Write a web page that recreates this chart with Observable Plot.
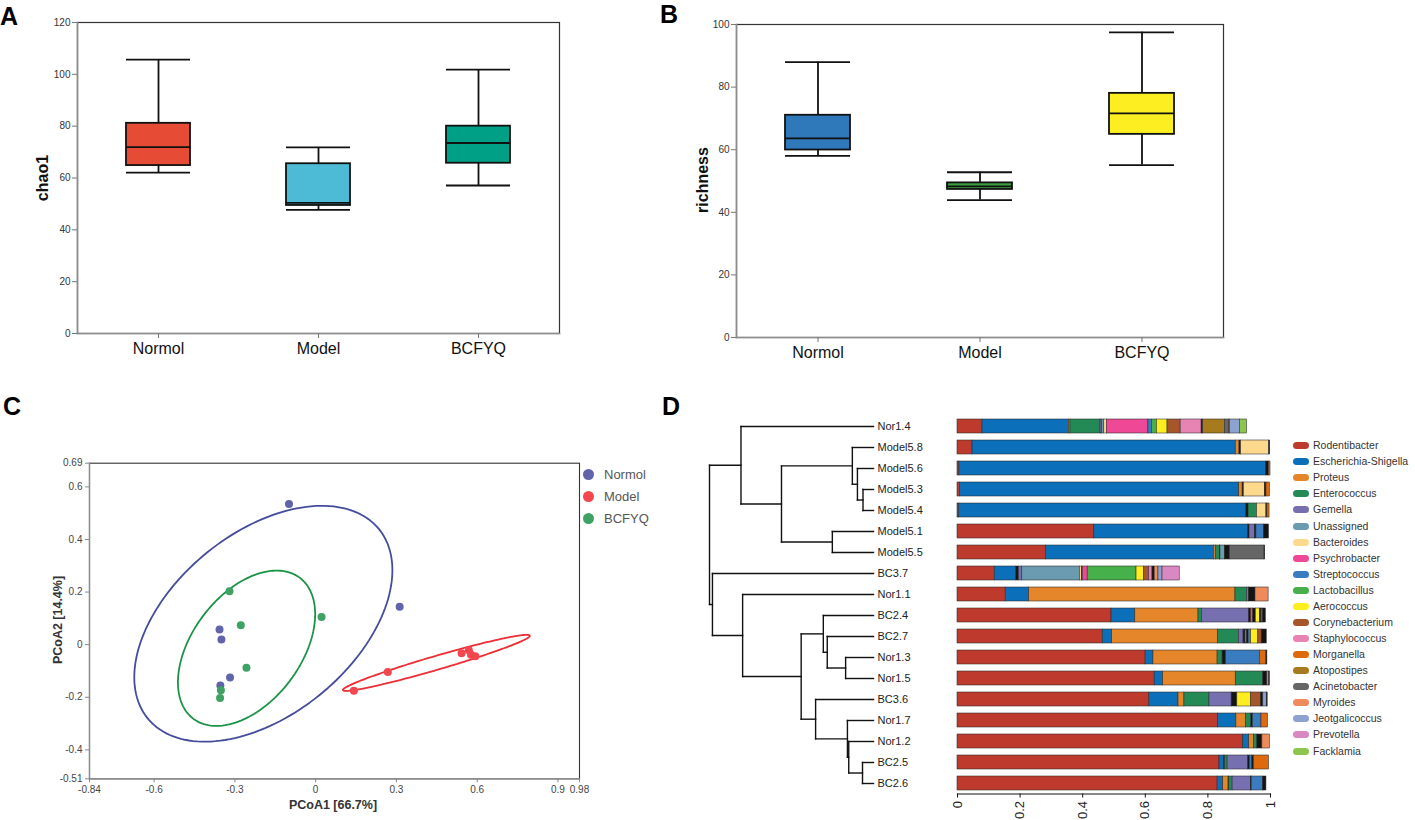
<!DOCTYPE html>
<html><head><meta charset="utf-8">
<script src="https://cdn.jsdelivr.net/npm/d3@7"></script>
<script src="https://cdn.jsdelivr.net/npm/@observablehq/plot@0.6"></script>
<style>
body{margin:0;background:#fff;}
#root{position:relative;width:1415px;height:820px;font-family:"Liberation Sans",Arial,sans-serif;overflow:hidden;background:#fff;}
.letter{position:absolute;font-weight:bold;font-size:25px;line-height:1;color:#000;}
.ctr{position:absolute;transform:translate(-50%,-50%);white-space:nowrap;}
.rot{position:absolute;transform:translate(-50%,-50%) rotate(-90deg);white-space:nowrap;}
</style></head><body><div id="root"></div>
<script>
// ---------------- DATA ----------------
const groups = ["Normol", "Model", "BCFYQ"];
// Panel A: chao1 box summaries
const chao1Min = [62.1, 47.7, 57.1];
const chao1Q1 = [64.8, 49.4, 65.7];
const chao1Median = [71.9, 50.4, 73.5];
const chao1Q3 = [81.1, 65.5, 80.0];
const chao1Max = [105.7, 71.8, 101.8];
const chao1Ticks = [0, 20, 40, 60, 80, 100, 120];
const chao1Colors = ["#E64B35", "#4DBBD5", "#00A087"];
// Panel B: richness box summaries
const richMin = [58.0, 43.9, 55.1];
const richQ1 = [59.9, 47.3, 64.9];
const richMedian = [63.6, 48.3, 71.6];
const richQ3 = [71.0, 49.4, 78.0];
const richMax = [88.0, 52.8, 97.5];
const richTicks = [0, 20, 40, 60, 80, 100];
const richColors = ["#2F79BA", "#3A9F3F", "#FDEE21"];
// Panel C: PCoA
const pcoaNormolX = [-0.099, 0.312, -0.357, -0.350, -0.318, -0.354];
const pcoaNormolY = [0.535, 0.144, 0.058, 0.020, -0.125, -0.155];
const pcoaModelX = [0.142, 0.268, 0.542, 0.569, 0.577, 0.593];
const pcoaModelY = [-0.175, -0.104, -0.033, -0.021, -0.038, -0.044];
const pcoaBcfyqX = [-0.320, 0.022, -0.278, -0.257, -0.352, -0.355];
const pcoaBcfyqY = [0.203, 0.105, 0.074, -0.088, -0.173, -0.203];
const pcoaPointColors = ["#6065AA", "#F2474F", "#3FA164"];
const pcoaEllipseColors = ["#454C9C", "#EF2D35", "#1E9348"];
const pcoaXTicks = [-0.84, -0.6, -0.3, 0, 0.3, 0.6, 0.9, 0.98];
const pcoaYTicks = [-0.51, -0.4, -0.2, 0, 0.2, 0.4, 0.6, 0.69];
const ellipseLevel = 0.8;
// Panel D: samples, tree, composition
const samples = ["Nor1.4","Model5.8","Model5.6","Model5.3","Model5.4","Model5.1","Model5.5","BC3.7","Nor1.1","BC2.4","BC2.7","Nor1.3","Nor1.5","BC3.6","Nor1.7","Nor1.2","BC2.5","BC2.6"];
// merges: [node id, child a, child b, height]
const merges = [
  ["F","Model5.3","Model5.4",0.064],
  ["E","Model5.6","F",0.098],
  ["C","Model5.8","E",0.129],
  ["D","Model5.1","Model5.5",0.251],
  ["B","C","D",0.561],
  ["A","Nor1.4","B",0.808],
  ["M","Nor1.3","Nor1.5",0.170],
  ["L","BC2.7","M",0.282],
  ["J","BC2.4","L",0.306],
  ["Q","BC2.5","BC2.6",0.067],
  ["P","Nor1.2","Q",0.151],
  ["N","Nor1.7","P",0.159],
  ["K","BC3.6","N",0.353],
  ["I","J","K",0.441],
  ["H","Nor1.1","I",0.798],
  ["G","BC3.7","H",0.982],
  ["root","A","G",1.0]
];
const genera = ["Rodentibacter","Escherichia-Shigella","Proteus","Enterococcus","Gemella","Unassigned","Bacteroides","Psychrobacter","Streptococcus","Lactobacillus","Aerococcus","Corynebacterium","Staphylococcus","Morganella","Atopostipes","Acinetobacter","Myroides","Jeotgalicoccus","Prevotella","Facklamia"];
const generaColors = ["#BE3A2C","#0B6FBA","#E5862A","#238A55","#7670B1","#6B9BB0","#FDD98E","#EE4896","#3A7CC0","#46B04A","#FFEE1F","#A6562A","#E884B4","#DD6A0C","#A77B1D","#666666","#EF8A5B","#8DA2D1","#DA88C2","#8CC64D"];
const otherName = "Other"; // index 20 (dark minor taxa)
const otherColor = "#141414";
// segments per sample: [genus index, relative abundance], in drawing order
const segNor14 = [[0,.080],[1,.276],[2,.005],[3,.096],[4,.005],[5,.007],[6,.008],[7,.133],[8,.011],[9,.016],[10,.034],[11,.042],[12,.067],[20,.005],[14,.069],[15,.014],[16,.002],[17,.032],[19,.023]];
const segModel58 = [[0,.048],[1,.841],[2,.012],[20,.005],[6,.090],[20,.003]];
const segModel56 = [[0,.006],[1,.980],[20,.009],[13,.005]];
const segModel53 = [[0,.008],[1,.892],[2,.011],[20,.004],[6,.067],[20,.005],[13,.011]];
const segModel54 = [[0,.005],[1,.918],[20,.007],[3,.027],[6,.030],[20,.003],[13,.007]];
const segModel51 = [[0,.437],[1,.492],[20,.004],[4,.017],[20,.005],[8,.024],[20,.016]];
const segModel55 = [[0,.283],[1,.536],[2,.006],[3,.013],[20,.002],[5,.014],[20,.016],[15,.111],[20,.002]];
const segBC37 = [[0,.119],[1,.069],[20,.008],[4,.011],[5,.184],[6,.007],[20,.002],[7,.016],[9,.156],[10,.024],[11,.016],[12,.011],[20,.007],[16,.012],[17,.013],[18,.055]];
const segNor11 = [[0,.154],[1,.075],[2,.659],[3,.037],[4,.006],[20,.021],[16,.042]];
const segBC24 = [[0,.492],[1,.076],[2,.202],[3,.011],[4,.151],[20,.006],[7,.007],[20,.008],[10,.013],[20,.005],[11,.005],[20,.009]];
const segBC27 = [[0,.464],[1,.030],[2,.338],[3,.067],[4,.015],[20,.006],[5,.005],[20,.005],[8,.008],[10,.023],[11,.011],[20,.016]];
const segNor13 = [[0,.601],[1,.025],[2,.205],[3,.016],[20,.011],[8,.108],[13,.021],[20,.003]];
const segNor15 = [[0,.630],[1,.027],[2,.232],[3,.088],[20,.013],[18,.006],[20,.002]];
const segBC36 = [[0,.613],[1,.093],[2,.019],[3,.080],[4,.071],[20,.018],[10,.044],[11,.032],[20,.007],[17,.011],[20,.003]];
const segNor17 = [[0,.833],[1,.058],[2,.030],[3,.018],[20,.005],[8,.027],[13,.021]];
const segNor12 = [[0,.913],[1,.019],[2,.016],[3,.010],[20,.016],[16,.024]];
const segBC25 = [[0,.837],[1,.015],[20,.003],[3,.008],[4,.066],[20,.005],[8,.008],[20,.005],[13,.048]];
const segBC26 = [[0,.831],[1,.018],[2,.017],[20,.002],[3,.011],[4,.058],[20,.003],[8,.036],[20,.011]];
const sampleSegments = [segNor14,segModel58,segModel56,segModel53,segModel54,segModel51,segModel55,segBC37,segNor11,segBC24,segBC27,segNor13,segNor15,segBC36,segNor17,segNor12,segBC25,segBC26];
const compTicks = [0, 0.2, 0.4, 0.6, 0.8, 1];

// ---------------- HELPERS ----------------
const root = document.getElementById("root");
const FONT = '"Liberation Sans", Arial, sans-serif';
function place(el, left, top) {
  el.style.position = "absolute"; el.style.left = left + "px"; el.style.top = top + "px";
  root.appendChild(el); return el;
}
function addDiv(txt, cls, left, top, css) {
  const d = document.createElement("div");
  d.className = cls; d.textContent = txt;
  d.style.left = left + "px"; d.style.top = top + "px";
  d.style.cssText += css || "";
  root.appendChild(d); return d;
}
const baseStyle = {fontFamily: FONT, fontSize: "10px", color: "#222", background: "transparent", overflow: "visible"};

function boxPlot(mins, q1s, meds, q3s, maxs, colors, yMax, yTicks, dims) {
  const data = groups.map((g, i) => ({group: g, min: mins[i], q1: q1s[i], median: meds[i], q3: q3s[i], max: maxs[i]}));
  const lw = 1.8;
  return Plot.plot({
    width: dims.width, height: dims.height,
    marginLeft: dims.ml, marginRight: dims.mr, marginTop: dims.mt, marginBottom: dims.mb,
    style: baseStyle,
    x: {domain: groups, paddingInner: 0.6, paddingOuter: 0.3, label: null},
    y: {domain: [0, yMax], label: null},
    color: {domain: groups, range: colors},
    marks: [
      Plot.ruleX(data, {x: "group", y1: "min", y2: "max", stroke: "#111", strokeWidth: lw}),
      Plot.barY(data, {x: "group", y1: "q1", y2: "q3", fill: "group", stroke: "#111", strokeWidth: lw}),
      Plot.tickY(data, {x: "group", y: "median", stroke: "#111", strokeWidth: lw}),
      Plot.tickY(data, {x: "group", y: "min", stroke: "#111", strokeWidth: lw}),
      Plot.tickY(data, {x: "group", y: "max", stroke: "#111", strokeWidth: lw}),
      Plot.frame({stroke: "#333", strokeWidth: 1.2}),
      Plot.frame({anchor: "left", stroke: "#8c8c8c", strokeWidth: 1.6}),
      Plot.frame({anchor: "bottom", stroke: "#8c8c8c", strokeWidth: 1.6}),
      Plot.axisY({ticks: yTicks, tickSize: 5, tickPadding: 2, stroke: "#777", fill: "#333", fontSize: 10, label: null}),
      Plot.axisX({tickSize: 5, tickPadding: 4, stroke: "#777", fill: "#111", fontSize: 16, label: null})
    ]
  });
}

function ellipsePoints(xs, ys, level) {
  const n = xs.length, mx = d3.mean(xs), my = d3.mean(ys);
  let sxx = 0, syy = 0, sxy = 0;
  for (let i = 0; i < n; i++) { const dx = xs[i] - mx, dy = ys[i] - my; sxx += dx*dx; syy += dy*dy; sxy += dx*dy; }
  sxx /= (n - 1); syy /= (n - 1); sxy /= (n - 1);
  const tr = sxx + syy, det = sxx*syy - sxy*sxy;
  const disc = Math.sqrt(Math.max(0, tr*tr/4 - det));
  const l1 = tr/2 + disc, l2 = Math.max(0, tr/2 - disc);
  const theta = Math.abs(sxy) > 1e-12 ? Math.atan2(l1 - sxx, sxy) : (sxx >= syy ? 0 : Math.PI/2);
  const r = Math.sqrt(-2 * Math.log(1 - level));
  const a = r*Math.sqrt(l1), b = r*Math.sqrt(l2);
  const pts = [];
  const N = 160;
  for (let k = 0; k <= N; k++) {
    const t = 2*Math.PI*k/N;
    const u = a*Math.cos(t), v = b*Math.sin(t);
    pts.push({x: mx + u*Math.cos(theta) - v*Math.sin(theta), y: my + u*Math.sin(theta) + v*Math.cos(theta)});
  }
  return pts;
}

// ---------------- PANEL LETTERS ----------------
addDiv("A", "letter", 0, 4);
addDiv("B", "letter", 660, 2);
addDiv("C", "letter", 3, 394);
addDiv("D", "letter", 662, 394);

// ---------------- PANEL A ----------------
place(boxPlot(chao1Min, chao1Q1, chao1Median, chao1Q3, chao1Max, chao1Colors, 120, chao1Ticks,
  {width: 570, height: 365, ml: 77, mr: 11, mt: 22, mb: 32}), 0, 0);
addDiv("chao1", "rot", 43, 178, "font-weight:bold;font-size:16px;color:#111;");

// ---------------- PANEL B ----------------
place(boxPlot(richMin, richQ1, richMedian, richQ3, richMax, richColors, 100, richTicks,
  {width: 575, height: 365, ml: 76, mr: 12, mt: 24, mb: 28}), 660, 0);
addDiv("richness", "rot", 703, 180, "font-weight:bold;font-size:16px;color:#111;");

// ---------------- PANEL C ----------------
{
  const setsX = [pcoaNormolX, pcoaModelX, pcoaBcfyqX];
  const setsY = [pcoaNormolY, pcoaModelY, pcoaBcfyqY];
  const marks = [
    Plot.frame({stroke: "#333", strokeWidth: 1.1}),
    Plot.frame({anchor: "left", stroke: "#8c8c8c", strokeWidth: 1.4}),
    Plot.frame({anchor: "bottom", stroke: "#8c8c8c", strokeWidth: 1.4})
  ];
  groups.forEach((g, gi) => {
    marks.push(Plot.line(ellipsePoints(setsX[gi], setsY[gi], ellipseLevel), {x: "x", y: "y", stroke: pcoaEllipseColors[gi], strokeWidth: 1.8}));
  });
  groups.forEach((g, gi) => {
    const pts = setsX[gi].map((x, i) => ({x, y: setsY[gi][i]}));
    marks.push(Plot.dot(pts, {x: "x", y: "y", r: 4, fill: pcoaPointColors[gi], stroke: "none"}));
  });
  marks.push(Plot.axisX({ticks: pcoaXTicks, tickFormat: d => String(d), tickSize: 4, tickPadding: 3, stroke: "#888", fill: "#444", fontSize: 10, label: null}));
  marks.push(Plot.axisY({ticks: pcoaYTicks, tickFormat: d => String(d), tickSize: 4, tickPadding: 3, stroke: "#888", fill: "#444", fontSize: 10, label: null}));
  const svgC = Plot.plot({
    width: 680, height: 400, marginLeft: 89, marginRight: 101, marginTop: 52.7, marginBottom: 31.7,
    style: baseStyle,
    x: {domain: [-0.84, 0.98], label: null},
    y: {domain: [-0.51, 0.69], label: null},
    marks
  });
  place(svgC, 0, 410);
  addDiv("PCoA1 [66.7%]", "ctr", 333, 805, "font-weight:bold;font-size:12.5px;color:#333;");
  addDiv("PCoA2 [14.4%]", "rot", 58, 620, "font-weight:bold;font-size:12.5px;color:#333;");
  // legend
  groups.forEach((g, gi) => {
    const item = document.createElement("div");
    item.style.cssText = `position:absolute;left:583px;top:${467.8 + gi*22.2}px;height:13px;display:flex;align-items:center;`;
    const sw = document.createElement("span");
    sw.style.cssText = `display:inline-block;width:11px;height:11px;border-radius:50%;background:${pcoaPointColors[gi]};`;
    const tx = document.createElement("span");
    tx.textContent = g;
    tx.style.cssText = "margin-left:10px;font-size:13px;color:#555;line-height:13px;";
    item.appendChild(sw); item.appendChild(tx);
    root.appendChild(item);
  });
}

// ---------------- PANEL D: dendrogram ----------------
{
  const pos = new Map(samples.map((s, i) => [s, {y: i, h: 0}]));
  const segs = [];
  for (const [id, a, b, h] of merges) {
    const pa = pos.get(a), pb = pos.get(b);
    segs.push({x1: pa.h, y1: pa.y, x2: h, y2: pa.y});
    segs.push({x1: pb.h, y1: pb.y, x2: h, y2: pb.y});
    segs.push({x1: h, y1: pa.y, x2: h, y2: pb.y});
    pos.set(id, {y: (pa.y + pb.y) / 2, h});
  }
  const tree = Plot.plot({
    width: 250, height: 410, marginLeft: 19, marginRight: 67, marginTop: 5.5, marginBottom: 26.5,
    style: baseStyle,
    x: {domain: [1, 0], axis: null},
    y: {domain: [samples.length - 0.5, -0.5], axis: null},
    marks: [
      Plot.link(segs, {x1: "x1", y1: "y1", x2: "x2", y2: "y2", stroke: "#111", strokeWidth: 1.4, strokeLinecap: "square"}),
      Plot.text(samples, {x: () => 0, y: (d, i) => i, text: d => d, textAnchor: "start", dx: 4, fontSize: 11, fill: "#222"})
    ]
  });
  place(tree, 690, 410);
}

// ---------------- PANEL D: stacked bars ----------------
{
  const names = [...genera, otherName];
  const colors = [...generaColors, otherColor];
  const comp = [];
  samples.forEach((s, si) => {
    sampleSegments[si].forEach(([gi, v]) => comp.push({sample: s, genus: names[gi], value: v}));
  });
  const bars = Plot.plot({
    width: 340, height: 410, marginLeft: 17, marginRight: 10, marginTop: 5.5, marginBottom: 26.5,
    style: baseStyle,
    x: {domain: [0, 1], label: null},
    y: {domain: samples, paddingInner: 0.33, paddingOuter: 0.165, axis: null, label: null},
    color: {domain: names, range: colors},
    marks: [
      Plot.barX(comp, Plot.stackX({y: "sample", x: "value", fill: "genus", stroke: "#2a2a2a", strokeWidth: 0.55, order: null})),
      Plot.frame({anchor: "bottom", stroke: "#111", strokeWidth: 1.2}),
      Plot.axisX({ticks: compTicks, tickFormat: d => String(d), tickRotate: -90, tickSize: 4, tickPadding: 3, stroke: "#111", fill: "#222", fontSize: 13, label: null})
    ]
  });
  place(bars, 940, 410);
  // legend
  genera.forEach((g, gi) => {
    const item = document.createElement("div");
    item.style.cssText = `position:absolute;left:1293px;top:${439.2 + gi*16.07}px;height:13px;display:flex;align-items:center;`;
    const sw = document.createElement("span");
    sw.style.cssText = `display:inline-block;width:16px;height:7px;border-radius:3.5px;background:${generaColors[gi]};`;
    const tx = document.createElement("span");
    tx.textContent = g;
    tx.style.cssText = "margin-left:4px;font-size:10.5px;color:#333;line-height:13px;";
    item.appendChild(sw); item.appendChild(tx);
    root.appendChild(item);
  });
}
</script></body></html>
